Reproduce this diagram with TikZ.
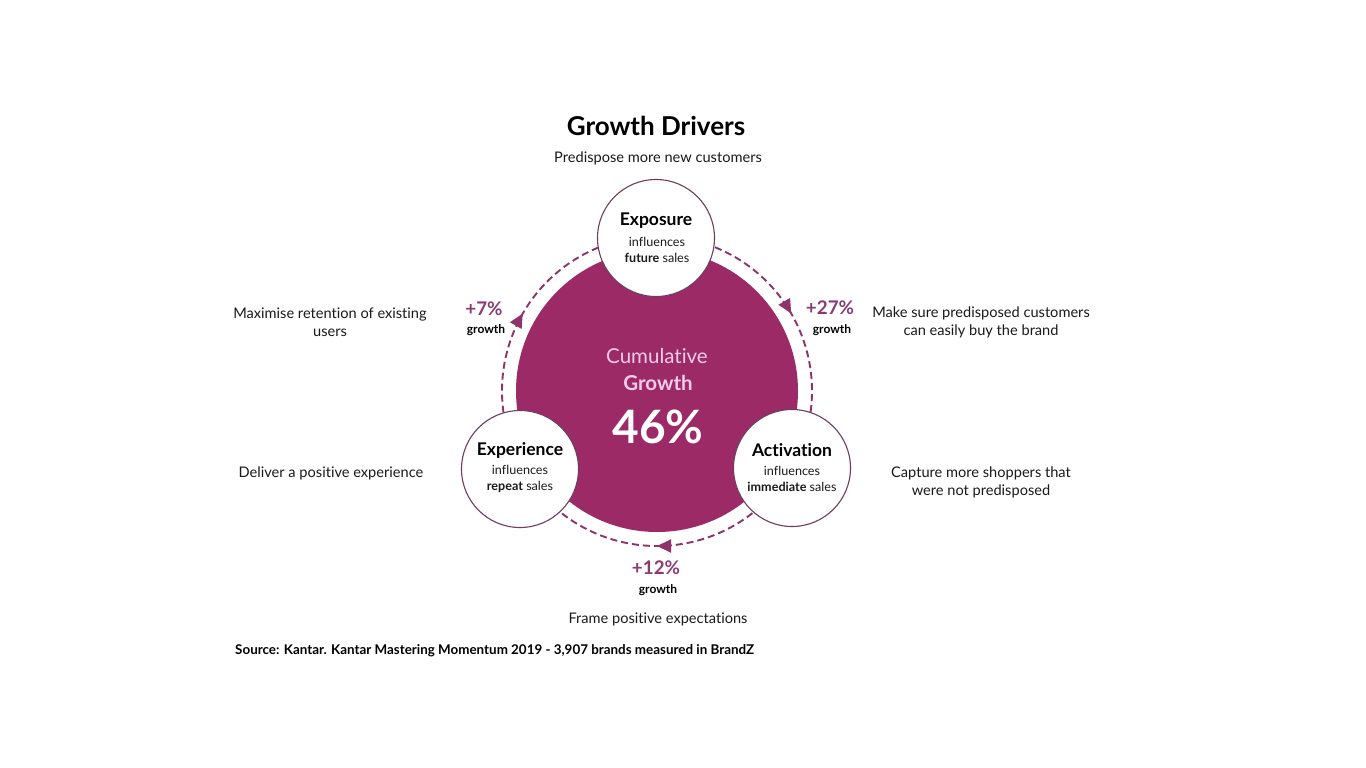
\documentclass[tikz,border=0pt]{standalone}
\usepackage{fontspec}
\setmainfont{Lato}[Ligatures={NoCommon,NoRequired,NoContextual}]
\usetikzlibrary{arrows.meta,decorations.markings}
\definecolor{plum}{HTML}{9B2A67}
\definecolor{plumtext}{HTML}{8C3A73}
\definecolor{pinktext}{HTML}{F6CBE8}
\definecolor{ringline}{HTML}{6E3D60}
\definecolor{flowline}{HTML}{8E3468}
\definecolor{ink}{HTML}{1A1A1A}
\begin{document}
\begin{tikzpicture}[x=1pt,y=-1pt,
  desc/.style={font=\fontsize{14.6}{18}\selectfont, text=ink, align=center, inner sep=0pt},
  driver/.style={circle, draw=ringline, line width=1.1pt, fill=white, minimum size=117pt, inner sep=0pt},
  drivername/.style={font=\bfseries\fontsize{17.5}{19}\selectfont, text=black, inner sep=0pt},
  driversub/.style={font=\fontsize{12.6}{16}\selectfont, text=ink, align=center, inner sep=0pt},
  pct/.style={font=\bfseries\fontsize{18.8}{20}\selectfont, text=plumtext, inner sep=0pt},
  growthlbl/.style={font=\bfseries\fontsize{12}{13}\selectfont, text=black, inner sep=0pt},
  flow/.style={draw=flowline, line width=1.9pt, dash pattern=on 7pt off 4pt,
    postaction={decorate, decoration={markings,
      mark=at position 0.5 with {\arrow[flowline]{Triangle[length=14pt,width=13pt]}}}}}
  ]
\useasboundingbox (0,0) rectangle (1366,768);
\fill[white] (0,0) rectangle (1366,768);

% title
\node[font=\bfseries\fontsize{26}{30}\selectfont, text=black, inner sep=0pt] (title) at (656,126) {Growth Drivers};
\node[desc] (topdesc) at (658,158) {Predispose more new customers};

% core circle
\node[circle, fill=plum, minimum size=282pt, inner sep=0pt] (core) at (657,391) {};

% dashed flows
\draw[flow] ([shift={(-68:155)}]core.center) arc[start angle=-68, end angle=8, radius=155];
\draw[flow] ([shift={(52:155)}]core.center) arc[start angle=52, end angle=128, radius=155];
\draw[flow] ([shift={(172:155)}]core.center) arc[start angle=172, end angle=248, radius=155];

% core texts
\node[font=\fontsize{20.5}{22}\selectfont, text=pinktext, inner sep=0pt] (cum) at (657,356) {Cumulative};
\node[font=\bfseries\fontsize{20.5}{22}\selectfont, text=pinktext, inner sep=0pt] (cumg) at (658,383) {Growth};
\node[font=\bfseries\fontsize{46}{48}\selectfont, text=white, inner sep=0pt] (total) at (658,427) {46\%};

% driver circles
\node[driver] (expo) at (656,238) {};
\node[driver] (expe) at (520,469) {};
\node[driver] (acti) at (792,468) {};

\node[drivername] (expoT) at (656,221) {Exposure};
\node[driversub] (expoS) at (657,250) {influences\\\textbf{future} sales};
\node[drivername] (expeT) at (520,450) {Experience};
\node[driversub] (expeS) at (520,479) {influences\\\textbf{repeat} sales};
\node[drivername] (actiT) at (792,450) {Activation};
\node[driversub] (actiS) at (792,479) {influences\\\textbf{immediate} sales};

% growth labels
\node[pct] (p7) at (484,309) {+7\%};
\node[growthlbl] (g7) at (486,330) {growth};
\node[pct] (p27) at (830,308) {+27\%};
\node[growthlbl] (g27) at (832,330) {growth};
\node[pct] (p12) at (656,568) {+12\%};
\node[growthlbl] (g12) at (658,590) {growth};

% side descriptions
\node[desc] (dl1) at (330,322) {Maximise retention of existing\\users};
\node[desc] (dr1) at (981,322) {Make sure predisposed customers\\can easily buy the brand};
\node[desc] (dl2) at (331,473) {Deliver a positive experience};
\node[desc] (dr2) at (981,482) {Capture more shoppers that\\were not predisposed};
\node[desc] (bot) at (658,619) {Frame positive expectations};

% source
\node[font=\bfseries\fontsize{13.4}{15}\selectfont, text=black, inner sep=0pt, anchor=west] (src) at (235,651) {Source: Kantar. Kantar Mastering Momentum 2019 - 3,907 brands measured in BrandZ};
\end{tikzpicture}
\end{document}
